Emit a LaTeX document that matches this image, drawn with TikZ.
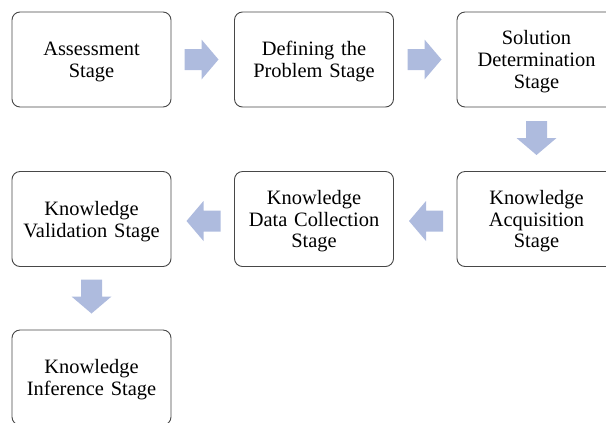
\documentclass[tikz,border=0pt]{standalone}
\usepackage{fontspec}
\setmainfont{Liberation Serif}
\newcommand{\topstrut}{\rule{0pt}{18.5bp}}
\begin{document}
\begin{tikzpicture}[x=1bp,y=-1bp,
  stagebox/.style={draw=black!72, line width=0.9bp, rounded corners=8bp, minimum width=159bp, minimum height=95bp, inner sep=0pt, align=center, text width=155bp, font=\fontsize{20.5}{22}\selectfont},
  arrowfill/.style={fill={rgb,255:red,174;green,187;blue,222}}]
\useasboundingbox (0,0) rectangle (606,422);
\clip (0,0) rectangle (606,422);
\newcommand{\blockarrow}[3]{\fill[arrowfill, shift={(#1,#2)}, rotate=#3] (-17,-10.5) -- (0,-10.5) -- (0,-20) -- (17,0) -- (0,20) -- (0,10.5) -- (-17,10.5) -- cycle;}
\node[stagebox] (s1) at (91.5,59.5) {\topstrut Assessment\\Stage};
\node[stagebox] (s2) at (314,59.5) {\topstrut Defining the\\Problem Stage};
\node[stagebox] (s3) at (536.5,59.5) {\topstrut Solution\\Determination\\Stage};
\node[stagebox] (s4) at (536.5,219) {\topstrut Knowledge\\Acquisition\\Stage};
\node[stagebox] (s5) at (314,219) {\topstrut Knowledge\\Data Collection\\Stage};
\node[stagebox] (s6) at (91.5,219) {\topstrut Knowledge\\Validation Stage};
\node[stagebox] (s7) at (91.5,377.5) {\topstrut Knowledge\\Inference Stage};
\blockarrow{201.5}{59.5}{0}
\blockarrow{424.5}{59.5}{0}
\blockarrow{536.5}{138}{-90}
\blockarrow{426}{221}{180}
\blockarrow{203.5}{221}{180}
\blockarrow{91.5}{296.5}{-90}
\end{tikzpicture}
\end{document}
